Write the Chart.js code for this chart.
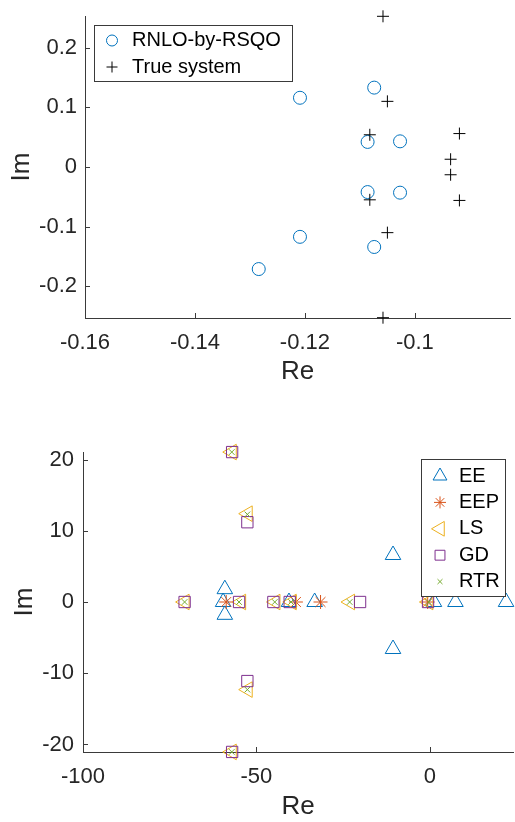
<!DOCTYPE html>
<html>
<head>
<meta charset="utf-8">
<script src="https://cdn.jsdelivr.net/npm/chart.js"></script>
<style>
  html, body { margin: 0; padding: 0; background: #fff; }
  #wrap { position: relative; width: 515px; height: 822px; }
  canvas { position: absolute; left: 0; }
  #poles { top: 0; }
  #methods { top: 400px; }
</style>
</head>
<body>
<div id="wrap">
  <canvas id="poles" width="515" height="400"></canvas>
  <canvas id="methods" width="515" height="422"></canvas>
</div>
<script>
// --- upper plot: identified poles vs true poles ---
let rsqoRe = [-0.1209, -0.1074, -0.1086, -0.1027, -0.1086, -0.1027, -0.1209, -0.1074, -0.1284];
let rsqoIm = [0.116, 0.133, 0.042, 0.043, -0.042, -0.043, -0.117, -0.134, -0.171];

let trueRe = [-0.1058, -0.1050, -0.1082, -0.0919, -0.0935, -0.0935, -0.1082, -0.0919, -0.1050, -0.1058];
let trueIm = [0.2525, 0.110, 0.054, 0.056, 0.013, -0.013, -0.055, -0.056, -0.110, -0.2525];

let topXTicks = [-0.16, -0.14, -0.12, -0.1];
let topYTicks = [-0.2, -0.1, 0, 0.1, 0.2];

// --- lower plot: poles from the other methods ---
let eeRe = [-59.1, -59.6, -59.1, -40.6, -33.2, -10.6, -10.6, 1.2, 7.4, 22.0];
let eeIm = [1.8, 0, -1.8, 0, 0, 6.6, -6.6, 0, 0, 0];

let eepRe = [-58.7, -38.6, -31.5, -0.6];
let eepIm = [0, 0, 0, 0];

let lsRe = [-70.7, -54.4, -44.5, -39.8, -23.0, -0.4, -57.1, -52.5, -52.5, -57.1];
let lsIm = [0, 0, 0, 0, 0, 0, 21.05, 12.4, -12.3, -21.05];

let gdRe = [-70.7, -55.0, -45.1, -40.4, -20.1, -0.5, -57.0, -52.6, -52.6, -57.0];
let gdIm = [0, 0, 0, 0, 0, 0, 21.05, 11.2, -11.1, -21.05];

let rtrRe = [-70.7, -55.0, -44.7, -40.0, -23.1, -0.3, -57.1, -52.6, -52.6, -57.1];
let rtrIm = [0, 0, 0, 0, 0, 0, 21.05, 12.3, -12.3, -21.05];

let botXTicks = [-100, -50, 0];
let botYTicks = [-20, -10, 0, 10, 20];

const axisColor = "#3a3a3a";
const textColor = "#262626";
Chart.defaults.font.family = "'Liberation Sans', Arial, sans-serif";
Chart.defaults.color = textColor;

function pts(re, im) {
  return re.map((x, i) => ({ x: x, y: im[i] }));
}

function fmt(v) {
  return String(Number(Number(v).toFixed(4)));
}

// MATLAB-like ticks pointing into the axes
const inwardTicks = {
  id: "inwardTicks",
  beforeDatasetsDraw(chart) {
    const { ctx, chartArea: a, scales } = chart;
    ctx.save();
    ctx.strokeStyle = axisColor;
    ctx.lineWidth = 1;
    ctx.beginPath();
    scales.x.ticks.forEach(t => {
      let px = Math.round(scales.x.getPixelForValue(t.value)) + 0.5;
      ctx.moveTo(px, a.bottom);
      ctx.lineTo(px, a.bottom - 5);
    });
    scales.y.ticks.forEach(t => {
      let py = Math.round(scales.y.getPixelForValue(t.value)) + 0.5;
      ctx.moveTo(a.left, py);
      ctx.lineTo(a.left + 5, py);
    });
    ctx.stroke();
    ctx.restore();
  }
};

// boxed legend placed inside the axes
const boxLegend = {
  id: "boxLegend",
  afterDatasetsDraw(chart, args, o) {
    const ctx = chart.ctx;
    ctx.save();
    ctx.fillStyle = "#fff";
    ctx.fillRect(o.x, o.y, o.w, o.h);
    ctx.strokeStyle = axisColor;
    ctx.lineWidth = 1;
    ctx.strokeRect(o.x + 0.5, o.y + 0.5, o.w, o.h);
    chart.data.datasets.forEach((ds, i) => {
      let cy = o.y + o.first + i * o.rowH;
      ctx.strokeStyle = ds.borderColor;
      ctx.fillStyle = "rgba(0,0,0,0)";
      ctx.lineWidth = 1;
      Chart.helpers.drawPoint(ctx, {
        pointStyle: ds.pointStyle,
        radius: o.radii[i],
        rotation: ds.pointRotation || 0,
        borderWidth: 1
      }, o.markerX, cy);
      ctx.fillStyle = "#000";
      ctx.font = "20px 'Liberation Sans', Arial, sans-serif";
      ctx.textBaseline = "middle";
      ctx.textAlign = "left";
      ctx.fillText(ds.label, o.textX, cy);
    });
    ctx.restore();
  }
};

function scaleX(min, max, tickVals, areaBottom, canvasH, tickPad, titlePad) {
  return {
    type: "linear",
    min: min,
    max: max,
    grid: { display: false, drawTicks: false },
    border: { display: true, color: axisColor, width: 1 },
    afterBuildTicks: s => { s.ticks = tickVals.map(v => ({ value: v })); },
    afterFit: s => {
      s.height = canvasH - areaBottom;
      s.paddingLeft = 0;
      s.paddingRight = 0;
    },
    ticks: { font: { size: 22 }, padding: tickPad, autoSkip: false, maxRotation: 0, callback: v => fmt(v) },
    title: { display: true, text: "Re", font: { size: 26 }, color: textColor, padding: { top: 0, bottom: titlePad } }
  };
}

function scaleY(min, max, tickVals, areaLeft, tickPad, titlePad) {
  return {
    type: "linear",
    min: min,
    max: max,
    grid: { display: false, drawTicks: false },
    border: { display: true, color: axisColor, width: 1 },
    afterBuildTicks: s => { s.ticks = tickVals.map(v => ({ value: v })); },
    afterFit: s => {
      s.width = areaLeft;
      s.paddingTop = 0;
      s.paddingBottom = 0;
    },
    ticks: { font: { size: 22 }, padding: tickPad, autoSkip: false, callback: v => fmt(v) },
    title: { display: true, text: "Im", font: { size: 26 }, color: textColor, padding: { top: titlePad, bottom: 0 } }
  };
}

new Chart(document.getElementById("poles").getContext("2d"), {
  type: "scatter",
  data: {
    datasets: [{
        label: "RNLO-by-RSQO",
        data: pts(rsqoRe, rsqoIm),
        pointStyle: "circle",
        pointRadius: 6.5,
        borderColor: "#0072BD",
        backgroundColor: "rgba(0,0,0,0)",
        borderWidth: 1,
        clip: false,
        order: 1
      },
      {
        label: "True system",
        data: pts(trueRe, trueIm),
        pointStyle: "cross",
        pointRadius: 6,
        borderColor: "#000000",
        backgroundColor: "rgba(0,0,0,0)",
        borderWidth: 1,
        clip: false,
        order: 0
      }
    ]
  },
  options: {
    responsive: false,
    animation: false,
    events: [],
    layout: { autoPadding: false, padding: { top: 16, right: 5, bottom: 0, left: 0 } },
    scales: {
      x: scaleX(-0.16, -0.0827, topXTicks, 318, 400, 12, 13),
      y: scaleY(-0.253, 0.253, topYTicks, 85, 8, 6)
    },
    plugins: {
      legend: { display: false },
      tooltip: { enabled: false },
      boxLegend: { x: 94, y: 25, w: 198, h: 56, first: 15.5, rowH: 26.5, markerX: 112, textX: 132, radii: [5.5, 5.5] }
    }
  },
  plugins: [inwardTicks, boxLegend]
});

new Chart(document.getElementById("methods").getContext("2d"), {
  type: "scatter",
  data: {
    datasets: [{
        label: "EE",
        data: pts(eeRe, eeIm),
        pointStyle: "triangle",
        pointRadius: 9,
        borderColor: "#0072BD",
        order: 4
      },
      {
        label: "EEP",
        data: pts(eepRe, eepIm),
        pointStyle: "star",
        pointRadius: 7,
        borderColor: "#D95319",
        order: 3
      },
      {
        label: "LS",
        data: pts(lsRe, lsIm),
        pointStyle: "triangle",
        pointRotation: -90,
        pointRadius: 9,
        borderColor: "#EDB120",
        order: 2
      },
      {
        label: "GD",
        data: pts(gdRe, gdIm),
        pointStyle: "rect",
        pointRadius: 8,
        borderColor: "#7E2F8E",
        order: 1
      },
      {
        label: "RTR",
        data: pts(rtrRe, rtrIm),
        pointStyle: "crossRot",
        pointRadius: 4,
        borderColor: "#77AC30",
        order: 0
      }
    ].map(ds => Object.assign(ds, { backgroundColor: "rgba(0,0,0,0)", borderWidth: 1, clip: false }))
  },
  options: {
    responsive: false,
    animation: false,
    events: [],
    layout: { autoPadding: false, padding: { top: 52, right: 2, bottom: 0, left: 0 } },
    scales: {
      x: scaleX(-100, 24, botXTicks, 352, 422, 12, 0),
      y: scaleY(-21.06, 21.06, botYTicks, 83, 9, 9)
    },
    plugins: {
      legend: { display: false },
      tooltip: { enabled: false },
      boxLegend: { x: 421, y: 59, w: 84, h: 137, first: 17, rowH: 26.4, markerX: 440, textX: 459, radii: [8, 6, 8.5, 7, 3.5] }
    }
  },
  plugins: [inwardTicks, boxLegend]
});
</script>
</body>
</html>
